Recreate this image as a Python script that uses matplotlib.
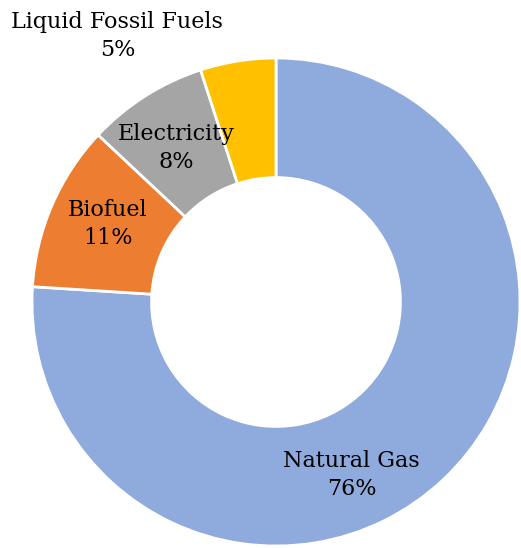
import matplotlib
matplotlib.use('Agg')
import matplotlib.pyplot as plt

# data
labels = ['Natural Gas', 'Biofuel', 'Electricity', 'Liquid Fossil Fuels']
shares = [76, 11, 8, 5]
colours = ['#8FAADC', '#ED7D31', '#A5A5A5', '#FFC000']

# label positions (in units of outer radius, centre at 0,0)
label_pos = [(0.31, -0.71), (-0.69, 0.32), (-0.41, 0.63), (-0.65, 1.09)]

fig = plt.figure(figsize=(5.21, 5.48), dpi=100)
ax = fig.add_axes([0, 0, 1, 1])

ax.pie(shares, colors=colours, startangle=90, counterclock=False,
       radius=1.0,
       wedgeprops=dict(width=0.49, edgecolor='white', linewidth=2))

for name, val, (x, y) in zip(labels, shares, label_pos):
    ax.text(x, y, f'{name}\n{val}%', ha='center', va='center',
            fontsize=16, family='DejaVu Serif', linespacing=1.35,
            color='black')

# centre at pixel (276, 302), outer radius 244 px
ax.set_xlim(-276 / 244, (521 - 276) / 244)
ax.set_ylim((302 - 548) / 244, 302 / 244)
ax.set_aspect('auto')
ax.axis('off')

fig.savefig('out.png', dpi=100)
